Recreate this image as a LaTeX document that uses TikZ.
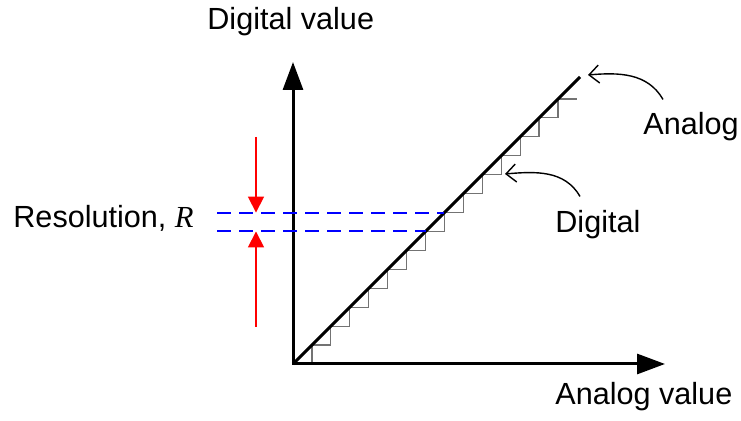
\documentclass[tikz,border=0pt]{standalone}
\usepackage{fontspec}
\setmainfont{Liberation Sans}
\newfontfamily\varfont{Liberation Serif}
\usepackage{tikz}
\usetikzlibrary{arrows.meta}
\definecolor{resblue}{RGB}{0,0,255}
\definecolor{resred}{RGB}{255,0,0}

\begin{document}
\begin{tikzpicture}[x=0.5pt,y=0.5pt,font=\fontsize{15.3}{18}\selectfont,
  axis/.style={line width=1.5pt,{Triangle[length=14pt,width=10pt]}-{Triangle[length=14pt,width=10pt]}},
  stair/.style={black!55,line width=0.6pt},
  level/.style={resblue,line width=1pt,dash pattern=on 7pt off 4pt},
  resarrow/.style={resred,line width=0.9pt,-{Triangle[length=8pt,width=8pt]}},
  callout/.style={line width=0.7pt,-{Straight Barb[length=5pt,width=9pt]}},
  lbl/.style={inner sep=0pt,anchor=base west}]
  \useasboundingbox (0,0) rectangle (741,421);
  \def\s{18.93}
  \coordinate (O) at (293,57);
  \coordinate (ytop) at (293,359);
  \coordinate (xend) at (665,57);
  \coordinate (aend) at (580,344);
  % digital staircase
  \foreach \k in {0,...,13}{
    \draw[stair] (293+\k*\s,57+\k*\s) -| (293+\k*\s+\s,57+\k*\s+\s);}
  \draw[stair] (293+14*\s,57+14*\s) -- (293+15*\s,57+14*\s);
  % analog line and axes
  \draw[line width=1.5pt] (O) -- (aend);
  \draw[axis] (ytop) -- (O) -- (xend);
  % resolution
  \coordinate (q8) at (293+8*\s,57+8*\s);
  \coordinate (q7) at (293+7*\s,57+7*\s);
  \draw[level] (217,57+8*\s) -- (q8);
  \draw[level] (217,57+7*\s) -- (q7);
  \coordinate (rtop) at (256,284);
  \coordinate (rbot) at (256,94);
  \draw[resarrow] (rtop) -- (256,57+8*\s);
  \draw[resarrow] (rbot) -- (256,57+7*\s);
  % labels
  \node[lbl] (yname) at (207,391) {Digital value};
  \node[lbl] (xname) at (555,16) {Analog value};
  \node[lbl] (res) at (13,193) {Resolution, {\varfont\itshape R}};
  \node[lbl] (analog) at (643,286) {Analog};
  \node[lbl] (digital) at (555,188) {Digital};
  \coordinate (atip) at (588,346);
  \coordinate (dtip) at (505,247);
  \draw[callout] ([xshift=10pt,yshift=6.5pt]analog.north west) to[out=120,in=5] (atip);
  \draw[callout] ([xshift=12.5pt,yshift=7pt]digital.north west) to[out=120,in=5] (dtip);
\end{tikzpicture}
\end{document}
